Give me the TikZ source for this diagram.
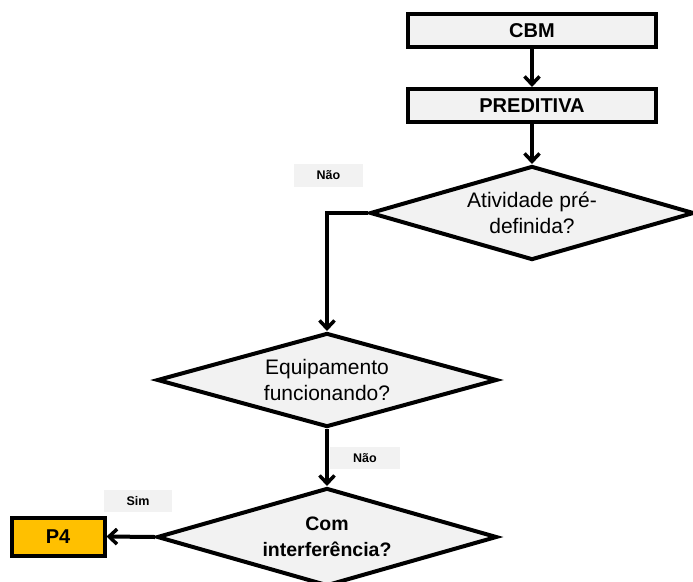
\documentclass[tikz,border=0pt]{standalone}
\usepackage{fontspec}
\setmainfont{Liberation Sans}
\usetikzlibrary{shapes.geometric,arrows.meta}
\definecolor{boxfill}{HTML}{F2F2F2}
\definecolor{goldfill}{HTML}{FFC000}
\tikzset{
  flow/.style={line width=4pt, -{Straight Barb[length=8pt,width=15pt,line width=3.5pt]}},
  procbox/.style={draw, line width=4pt, fill=boxfill, inner sep=0pt,
    font=\fontsize{20}{22}\selectfont\bfseries},
  decision/.style={draw, diamond, line width=4pt, fill=boxfill, inner sep=0pt,
    shape aspect=3.5, align=center, font=\fontsize{21}{26}\selectfont},
  tag/.style={fill=boxfill, inner sep=0pt, font=\fontsize{12.5}{14}\selectfont\bfseries}
}
\begin{document}
\begin{tikzpicture}[x=1pt,y=-1pt]
\useasboundingbox (0,0) rectangle (693,581);

% process boxes
\node[procbox, minimum width=248pt, minimum height=33pt] (cbm) at (532,30.5) {CBM};
\node[procbox, minimum width=248pt, minimum height=33pt] (pred) at (532,105.5) {PREDITIVA};
\node[procbox, fill=goldfill, minimum width=93pt, minimum height=38pt] (p4) at (58,536.5) {P4};

% decisions
\node[decision, minimum width=324pt, minimum height=94pt] (ativ) at (532,213)
  {Atividade pré-\\definida?};
\node[decision, minimum width=340pt, minimum height=94pt] (equip) at (327,380)
  {Equipamento\\funcionando?};
\node[decision, minimum width=340pt, minimum height=98pt,
  font=\fontsize{19.5}{26}\selectfont\bfseries] (interf) at (327,537)
  {Com\\interferência?};

% branch labels
\node[tag, minimum width=69pt, minimum height=23pt] (nao1) at (328.5,175.5) {Não};
\node[tag, minimum width=70pt, minimum height=22pt] (nao2) at (365,458) {Não};
\node[tag, minimum width=68pt, minimum height=22pt] (sim) at (138,501) {Sim};

% connectors
\draw[flow] (cbm.south) -- (pred.north);
\draw[flow] (pred.south) -- (ativ.north);
\draw[flow] (ativ.west) -| (equip.north);
\draw[flow] (equip.south) -- (interf.north);
\draw[flow] (interf.west) -- (p4.east);
\end{tikzpicture}
\end{document}
